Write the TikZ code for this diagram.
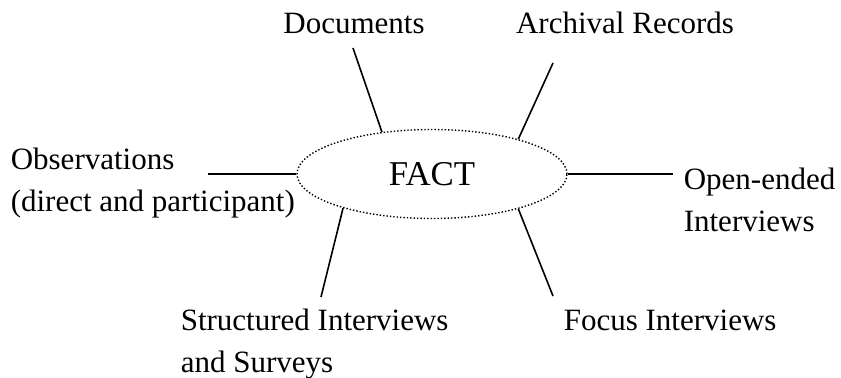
\documentclass[tikz,border=0pt]{standalone}
\usepackage{fontspec}
\setmainfont{Liberation Serif}
\usetikzlibrary{shapes.geometric}

\begin{document}
\begin{tikzpicture}[x=0.5pt,y=-0.5pt,inner sep=0pt,line width=0.8pt,
	every node/.style={font=\fontsize{15.5}{21}\selectfont},
	source/.style={anchor=base west,align=left}]

		\useasboundingbox (0,0) rectangle (841,377);

		\node[ellipse,draw,densely dotted,line width=0.7pt,minimum width=135pt,minimum height=44.5pt,font=\fontsize{17.4}{21}\selectfont] (fact) at (432,174) {FACT};

		\node[anchor=base] (doc) at (354,33) {Documents};
		\node[anchor=base] (arch) at (625,33) {Archival Records};
		\node[source] (open) at (683,231) {Open-ended\\Interviews};
		\node[source] (focus) at (563,330) {Focus Interviews};
		\node[source] (struct) at (180,372) {Structured Interviews\\and Surveys};
		\node[source] (obs) at (10,211) {Observations\\(direct and participant)};

		\coordinate (docend) at (353,48);
		\coordinate (archend) at (553,63);
		\coordinate (openend) at (673,174);
		\coordinate (focusend) at (553,296);
		\coordinate (structend) at (321,297);
		\coordinate (obsend) at (208,174);

		\path[draw]
			(fact.140) edge (docend)
			(fact.22) edge (archend)
			(fact.east) edge (openend)
			(fact.338) edge (focusend)
			(fact.201) edge (structend)
			(fact.west) edge (obsend);

\end{tikzpicture}
\end{document}
